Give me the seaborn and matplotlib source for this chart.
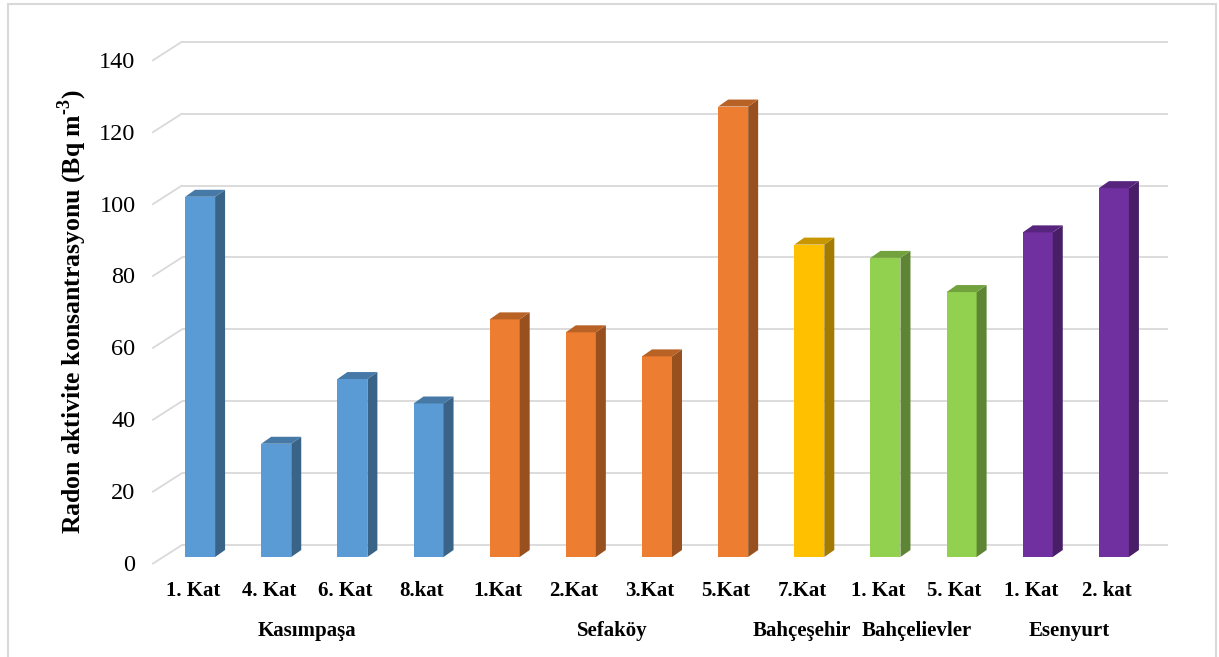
import numpy as np
import pandas as pd
import seaborn as sns
import matplotlib
matplotlib.use("Agg")
import matplotlib.pyplot as plt
from matplotlib.transforms import ScaledTranslation
from matplotlib.patches import Polygon, Rectangle
from matplotlib.colors import to_rgb

# ---------------- data ----------------
groups = ["Kasımpaşa", "Kasımpaşa", "Kasımpaşa", "Kasımpaşa",
          "Sefaköy", "Sefaköy", "Sefaköy", "Sefaköy",
          "Bahçeşehir", "Bahçelievler", "Bahçelievler",
          "Esenyurt", "Esenyurt"]
floors = ["1. Kat", "4. Kat", "6. Kat", "8.kat",
          "1.Kat", "2.Kat", "3.Kat", "5.Kat",
          "7.Kat", "1. Kat", "5. Kat", "1. Kat", "2. kat"]
values = [100.2, 31.5, 49.5, 42.7, 66.1, 62.5, 55.8, 125.3,
          86.9, 83.2, 73.7, 90.3, 102.6]
group_order = ["Kasımpaşa", "Sefaköy", "Bahçeşehir", "Bahçelievler", "Esenyurt"]
group_colors = ["#5B9BD5", "#ED7D31", "#FFC000", "#92D050", "#7030A0"]
y_ticks = [0, 20, 40, 60, 80, 100, 120, 140]
y_label = "Radon aktivite konsantrasyonu (Bq m$^{\\mathbf{\\text{-}3}}$)"

# ---------------- figure ----------------
W, H, DPI = 1219, 657, 100
sns.set_theme(style="white")
plt.rcParams["font.family"] = ["Liberation Serif", "DejaVu Serif"]
plt.rcParams["mathtext.fontset"] = "custom"
plt.rcParams["mathtext.rm"] = "Liberation Serif:bold"
plt.rcParams["mathtext.bf"] = "Liberation Serif:bold"

fig = plt.figure(figsize=(W / DPI, H / DPI), dpi=DPI)
fig.patch.set_facecolor("white")

# front plane pixel geometry
x_left_px, x_right_px = 155, 1145
y_bot_px, y_top_px = 563, 59.7
ax = fig.add_axes([x_left_px / W, 1 - y_bot_px / H,
                   (x_right_px - x_left_px) / W, (y_bot_px - y_top_px) / H])
ax.set_facecolor("none")

df = pd.DataFrame({"bar": [f"{g}|{f}|{i}" for i, (g, f) in enumerate(zip(groups, floors))],
                   "group": groups, "value": values})
sns.barplot(data=df, x="bar", y="value", hue="group", hue_order=group_order,
            palette=group_colors, dodge=False, width=0.394, legend=False,
            saturation=1, ax=ax, zorder=3)

ax.set_xlim(-0.5, 12.5)
ax.set_ylim(0, 140)
for s in ax.spines.values():
    s.set_visible(False)

px_x = (x_right_px - x_left_px) / 13.0
px_y = (y_bot_px - y_top_px) / 140.0

# gridlines (back wall + diagonal floor edge)
grid_c = "#D9D9D9"
back_dx, back_dy = 27, 18
back_tr = ax.transData + ScaledTranslation(back_dx / DPI, back_dy / DPI, fig.dpi_scale_trans)
for v in y_ticks:
    ax.plot([-0.5, 12.45], [v, v], color=grid_c, lw=1.3, transform=back_tr,
            clip_on=False, zorder=1, solid_capstyle="butt")
    ax.plot([-0.53, -0.5 + back_dx / px_x], [v - 0.2, v + back_dy / px_y], color=grid_c,
            lw=1.3, clip_on=False, zorder=1)

# 3D bars: shift front face, add side and top faces
front_dx, front_dy = 7, 6
depth_dx, depth_dy = 10 / px_x, 7 / px_y
front_tr = ax.transData + ScaledTranslation(front_dx / DPI, front_dy / DPI, fig.dpi_scale_trans)

def shade(c, f):
    r, g, b = to_rgb(c)
    return (r * f, g * f, b * f)

for p in ax.patches:
    x0 = p.get_x(); w = p.get_width(); h = p.get_height()
    if h <= 0:
        continue
    fc = p.get_facecolor()
    p.set_transform(front_tr)
    p.set_clip_on(False)
    p.set_edgecolor("none")
    side = Polygon([(x0 + w, 0), (x0 + w + depth_dx, depth_dy),
                    (x0 + w + depth_dx, h + depth_dy), (x0 + w, h)],
                   closed=True, facecolor=shade(fc, 0.64), edgecolor="none",
                   transform=front_tr, clip_on=False, zorder=3)
    top = Polygon([(x0, h), (x0 + depth_dx, h + depth_dy),
                   (x0 + w + depth_dx, h + depth_dy), (x0 + w, h)],
                  closed=True, facecolor=shade(fc, 0.78), edgecolor="none",
                  transform=front_tr, clip_on=False, zorder=3)
    ax.add_patch(side)
    ax.add_patch(top)

# ticks
ax.set_yticks(y_ticks)
ax.set_yticklabels([str(t) for t in y_ticks], fontsize=17.5, color="#000000")
ax.tick_params(axis="y", length=0, pad=14)
ax.set_xticks(range(len(floors)))
ax.set_xticklabels(floors, fontsize=15, fontweight="bold", color="#000000")
ax.tick_params(axis="x", length=0, pad=13)
ax.set_xlabel("")
ax.set_ylabel(y_label, fontsize=18.5, fontweight="bold", labelpad=7, color="#000000")

# group labels
gy = 1 - 631 / H
for g in group_order:
    idx = [i for i, gg in enumerate(groups) if gg == g]
    xc = (min(idx) + max(idx)) / 2.0
    xd = ax.transData.transform((xc, 0))[0] / W
    fig.text(xd, gy, g, ha="center", va="center", fontsize=15, fontweight="bold",
             color="#000000")

# outer frame
fig.patches.append(Rectangle((8 / W, -0.05), (1216 - 8) / W, 1 - 4 / H + 0.05,
                             transform=fig.transFigure, fill=False,
                             edgecolor="#D9D9D9", lw=1.5))

fig.savefig("out.png", dpi=DPI, facecolor="white")
